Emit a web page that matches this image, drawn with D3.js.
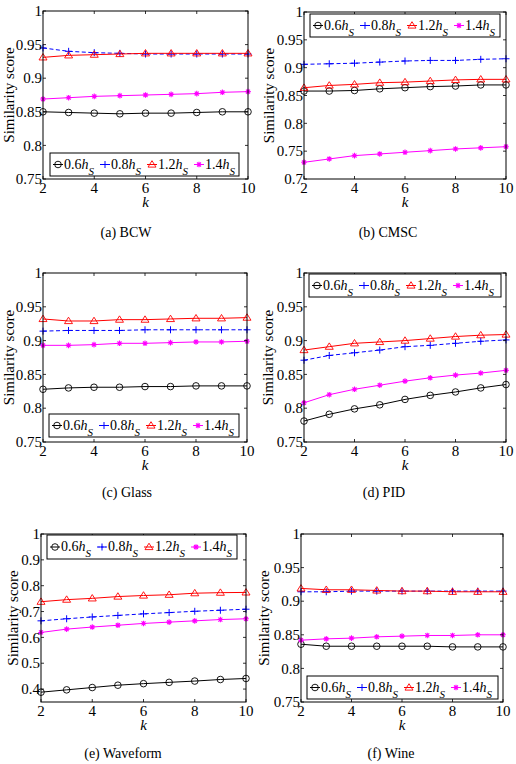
<!DOCTYPE html>
<html>
<head>
<meta charset="utf-8">
<script src="https://cdn.jsdelivr.net/npm/d3@7"></script>
<style>
  body { margin: 0; background: #fff; }
  text { font-family: "Liberation Serif", "Times New Roman", serif; fill: #000; }
</style>
</head>
<body>
<div id="content"></div>
<script>
// x values (neighbourhood size k) and ticks.
var kValues = [2, 3, 4, 5, 6, 7, 8, 9, 10];
var xTicks = [2, 4, 6, 8, 10];

// Legend labels: multiples of h_S.
var seriesLabels = ["0.6", "0.8", "1.2", "1.4"];

// Sub-figure captions.
var captions = ["(a)  BCW", "(b)  CMSC", "(c)  Glass", "(d)  PID", "(e)  Waveform", "(f)  Wine"];

// Similarity scores, rows: 0.6h_S, 0.8h_S, 1.2h_S, 1.4h_S.
var bcwScores = [
  [0.850, 0.849, 0.848, 0.847, 0.848, 0.848, 0.849, 0.850, 0.850],
  [0.945, 0.940, 0.938, 0.937, 0.936, 0.936, 0.936, 0.936, 0.936],
  [0.931, 0.934, 0.935, 0.936, 0.937, 0.937, 0.937, 0.937, 0.937],
  [0.869, 0.871, 0.873, 0.874, 0.875, 0.876, 0.877, 0.879, 0.880]
];
var cmscScores = [
  [0.858, 0.858, 0.859, 0.862, 0.864, 0.866, 0.867, 0.869, 0.869],
  [0.906, 0.907, 0.908, 0.910, 0.912, 0.913, 0.913, 0.915, 0.916],
  [0.864, 0.868, 0.870, 0.873, 0.874, 0.876, 0.878, 0.879, 0.879],
  [0.730, 0.736, 0.742, 0.745, 0.748, 0.751, 0.754, 0.756, 0.758]
];
var glassScores = [
  [0.828, 0.830, 0.831, 0.831, 0.832, 0.832, 0.833, 0.833, 0.833],
  [0.914, 0.915, 0.915, 0.915, 0.916, 0.916, 0.916, 0.916, 0.916],
  [0.932, 0.929, 0.929, 0.931, 0.931, 0.932, 0.933, 0.933, 0.934],
  [0.893, 0.893, 0.894, 0.896, 0.896, 0.897, 0.898, 0.898, 0.899]
];
var pidScores = [
  [0.781, 0.791, 0.799, 0.805, 0.813, 0.819, 0.824, 0.830, 0.835],
  [0.871, 0.878, 0.882, 0.886, 0.891, 0.893, 0.896, 0.899, 0.901],
  [0.886, 0.891, 0.896, 0.898, 0.900, 0.903, 0.906, 0.908, 0.909],
  [0.808, 0.820, 0.828, 0.834, 0.840, 0.845, 0.849, 0.852, 0.856]
];
var waveformScores = [
  [0.388, 0.397, 0.406, 0.415, 0.421, 0.426, 0.431, 0.437, 0.441],
  [0.664, 0.672, 0.679, 0.685, 0.691, 0.696, 0.701, 0.705, 0.709],
  [0.738, 0.746, 0.751, 0.758, 0.762, 0.765, 0.771, 0.773, 0.774],
  [0.619, 0.632, 0.640, 0.647, 0.654, 0.659, 0.664, 0.669, 0.672]
];
var wineScores = [
  [0.836, 0.833, 0.833, 0.833, 0.833, 0.833, 0.832, 0.832, 0.832],
  [0.914, 0.914, 0.915, 0.915, 0.915, 0.915, 0.915, 0.915, 0.915],
  [0.919, 0.917, 0.917, 0.916, 0.915, 0.915, 0.914, 0.914, 0.914],
  [0.842, 0.844, 0.845, 0.847, 0.848, 0.849, 0.849, 0.850, 0.850]
];

// y tick values.
var yTicksFine = [0.75, 0.8, 0.85, 0.9, 0.95, 1];
var yTicksCmsc = [0.7, 0.75, 0.8, 0.85, 0.9, 0.95, 1];
var yTicksWave = [0.4, 0.5, 0.6, 0.7, 0.8, 0.9, 1];

// Line / marker styles per series (MATLAB ko-, b+--, r^-, m*-).
var styles = [
  {color : "#000000", dash : null, marker : "circle"},
  {color : "#0000ff", dash : "4,2.5", marker : "plus"},
  {color : "#ff0000", dash : null, marker : "triangle"},
  {color : "#ff00ff", dash : null, marker : "star"}
];

// Panel layout (pixel boxes of the axes and legends).
var panels = [
  {caption : captions[0], scores : bcwScores, yDomain : [0.75, 1], yTicks : yTicksFine,
   box : {l : 43, r : 248, t : 11, b : 179}, legend : {x : 50, y : 153, w : 189, h : 23},
   labelX : 9, capX : 126, capY : 237},
  {caption : captions[1], scores : cmscScores, yDomain : [0.7, 1], yTicks : yTicksCmsc,
   box : {l : 304, r : 506, t : 12, b : 179}, legend : {x : 310, y : 14, w : 190, h : 23},
   labelX : 269, capX : 388, capY : 237},
  {caption : captions[2], scores : glassScores, yDomain : [0.75, 1], yTicks : yTicksFine,
   box : {l : 43, r : 247, t : 273, b : 442}, legend : {x : 49, y : 414, w : 190, h : 23},
   labelX : 9, capX : 127, capY : 497},
  {caption : captions[3], scores : pidScores, yDomain : [0.75, 1], yTicks : yTicksFine,
   box : {l : 304, r : 506, t : 273, b : 442}, legend : {x : 309, y : 274, w : 192, h : 23},
   labelX : 268, capX : 384, capY : 497},
  {caption : captions[4], scores : waveformScores, yDomain : [0.35, 1], yTicks : yTicksWave,
   box : {l : 41, r : 246, t : 534, b : 702}, legend : {x : 47, y : 535, w : 190, h : 24},
   labelX : 13, capX : 123, capY : 758},
  {caption : captions[5], scores : wineScores, yDomain : [0.75, 1], yTicks : yTicksFine,
   box : {l : 301, r : 503, t : 534, b : 702}, legend : {x : 307, y : 676, w : 191, h : 23},
   labelX : 264, capX : 391, capY : 758}
];

var svg = d3.select("#content").append("svg")
  .attr("width", 516)
  .attr("height", 764);

// Draw one marker of the given type.
function drawMarker(g, type, x, y, color) {
  if (type === "circle") {
    g.append("circle").attr("cx", x).attr("cy", y).attr("r", 3.3)
      .attr("fill", "none").attr("stroke", color).attr("stroke-width", 0.9);
  } else if (type === "plus") {
    g.append("path")
      .attr("d", "M" + (x - 3.5) + "," + y + "H" + (x + 3.5) + "M" + x + "," + (y - 3.5) + "V" + (y + 3.5))
      .attr("stroke", color).attr("stroke-width", 1).attr("fill", "none");
  } else if (type === "triangle") {
    g.append("path")
      .attr("d", "M" + x + "," + (y - 3.8) + "L" + (x + 4) + "," + (y + 2.6) + "L" + (x - 4) + "," + (y + 2.6) + "Z")
      .attr("stroke", color).attr("stroke-width", 0.9).attr("fill", "none");
  } else {
    var s = 2.8, d = 2.0;
    g.append("path")
      .attr("d", "M" + (x - s) + "," + y + "H" + (x + s) + "M" + x + "," + (y - s) + "V" + (y + s) +
        "M" + (x - d) + "," + (y - d) + "L" + (x + d) + "," + (y + d) +
        "M" + (x - d) + "," + (y + d) + "L" + (x + d) + "," + (y - d))
      .attr("stroke", color).attr("stroke-width", 1.1).attr("fill", "none");
  }
}

function tickText(v) { return String(+v.toFixed(2)); }

panels.forEach(function(p) {
  var g = svg.append("g");
  var x = d3.scaleLinear().domain([2, 10]).range([p.box.l, p.box.r]);
  var y = d3.scaleLinear().domain(p.yDomain).range([p.box.b, p.box.t]);

  // Data lines and markers.
  p.scores.forEach(function(row, i) {
    var st = styles[i];
    var line = d3.line()
      .x(function(d, j) { return x(kValues[j]); })
      .y(function(d) { return y(d); });
    g.append("path").datum(row)
      .attr("d", line)
      .attr("fill", "none")
      .attr("stroke", st.color)
      .attr("stroke-width", 1)
      .attr("stroke-dasharray", st.dash);
    row.forEach(function(v, j) { drawMarker(g, st.marker, x(kValues[j]), y(v), st.color); });
  });

  // Inward ticks on all four sides.
  var tickLen = 3;
  xTicks.forEach(function(t) {
    g.append("line").attr("x1", x(t)).attr("x2", x(t)).attr("y1", p.box.b).attr("y2", p.box.b - tickLen)
      .attr("stroke", "#000").attr("stroke-width", 0.8);
    g.append("line").attr("x1", x(t)).attr("x2", x(t)).attr("y1", p.box.t).attr("y2", p.box.t + tickLen)
      .attr("stroke", "#000").attr("stroke-width", 0.8);
    g.append("text").attr("x", x(t)).attr("y", p.box.b + 14)
      .attr("text-anchor", "middle").style("font-size", "15px").text(t);
  });
  p.yTicks.forEach(function(t) {
    g.append("line").attr("x1", p.box.l).attr("x2", p.box.l + tickLen).attr("y1", y(t)).attr("y2", y(t))
      .attr("stroke", "#000").attr("stroke-width", 0.8);
    g.append("line").attr("x1", p.box.r).attr("x2", p.box.r - tickLen).attr("y1", y(t)).attr("y2", y(t))
      .attr("stroke", "#000").attr("stroke-width", 0.8);
    g.append("text").attr("x", p.box.l - 1).attr("y", y(t)).attr("dy", "0.35em")
      .attr("text-anchor", "end").style("font-size", "15px").text(tickText(t));
  });

  // Axes box.
  g.append("rect")
    .attr("x", p.box.l).attr("y", p.box.t)
    .attr("width", p.box.r - p.box.l).attr("height", p.box.b - p.box.t)
    .attr("fill", "none").attr("stroke", "#000").attr("stroke-width", 1);

  // Axis labels.
  g.append("text").attr("x", (p.box.l + p.box.r) / 2).attr("y", p.box.b + 28)
    .attr("text-anchor", "middle").style("font-size", "15px").style("font-style", "italic").text("k");
  g.append("text")
    .attr("transform", "translate(" + p.labelX + "," + (p.box.t + p.box.b) / 2 + ") rotate(-90)")
    .attr("text-anchor", "middle").attr("dy", "0.35em")
    .style("font-size", "15px").text("Similarity score");

  // Legend.
  var lg = g.append("g");
  lg.append("rect").attr("x", p.legend.x).attr("y", p.legend.y)
    .attr("width", p.legend.w).attr("height", p.legend.h)
    .attr("fill", "#fff").attr("stroke", "#000").attr("stroke-width", 1);
  var midY = p.legend.y + p.legend.h / 2;
  seriesLabels.forEach(function(lab, i) {
    var st = styles[i];
    var x0 = p.legend.x + 3 + i * 47;
    lg.append("line").attr("x1", x0).attr("x2", x0 + 10).attr("y1", midY).attr("y2", midY)
      .attr("stroke", st.color).attr("stroke-width", 1).attr("stroke-dasharray", st.dash ? "2.5,1.5" : null);
    drawMarker(lg, st.marker, x0 + 5, midY, st.color);
    var t = lg.append("text").attr("x", x0 + 11).attr("y", p.legend.y + 15.5).style("font-size", "14px");
    t.append("tspan").text(lab);
    t.append("tspan").style("font-style", "italic").text("h");
    t.append("tspan").attr("dy", 6).style("font-style", "italic").style("font-size", "11px").text("S");
  });

  // Caption.
  svg.append("text").attr("x", p.capX).attr("y", p.capY)
    .attr("text-anchor", "middle").style("font-size", "14px").text(p.caption);
});
</script>
</body>
</html>
